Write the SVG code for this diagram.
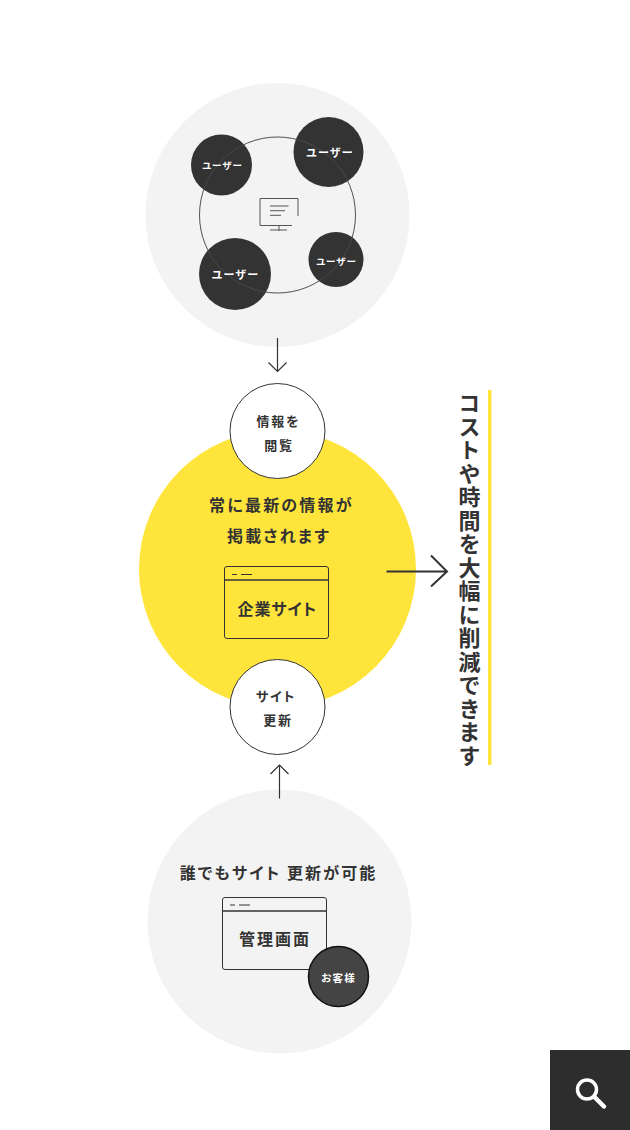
<svg xmlns="http://www.w3.org/2000/svg" width="630" height="1130" viewBox="0 0 630 1130">
<style>
text{font-family:"Noto Sans CJK JP","Noto Sans CJK SC",sans-serif;font-weight:700;text-anchor:middle;font-feature-settings:"palt"}
.d{fill:#333}
.w{fill:#fff}
.ln{fill:none;stroke:#333;stroke-width:1.5}
.th{fill:none;stroke:#333;stroke-width:1}
.u{fill:#333}
</style>
<rect width="630" height="1130" fill="#fff"/>
<g id="top-panel">
<circle cx="277.500" cy="215" r="132" fill="#f3f3f3"/>
<circle cx="277.500" cy="215" r="78" fill="none" stroke="#444" stroke-width="1"/>
</g>
<g id="monitor" fill="none" stroke="#555" stroke-width="1">
<path d="M298 216V198.500H260V225.500H292"/>
<path d="M279 226V231M270 230H287"/>
<path d="M270 206H288.500M270 210.700H285M270 215.300H281"/>
</g>
<g id="user-1"><circle cx="221.500" cy="165" r="30.500" class="u"/><text x="222.500" y="168.500" font-size="9.500" letter-spacing="1" class="w">ユーザー</text></g>
<g id="user-2"><circle cx="328.500" cy="152" r="35" class="u"/><text x="330" y="157" font-size="11" letter-spacing="1.200" class="w">ユーザー</text></g>
<g id="user-3"><circle cx="235" cy="274" r="36" class="u"/><text x="235.500" y="279" font-size="11" letter-spacing="1.200" class="w">ユーザー</text></g>
<g id="user-4"><circle cx="336" cy="259.500" r="27.500" class="u"/><text x="336.500" y="265" font-size="9.500" letter-spacing="1" class="w">ユーザー</text></g>
<g id="ring-overlay"><circle cx="277.500" cy="215" r="78" fill="none" stroke="#fff" stroke-opacity=".1" stroke-width="1"/></g>
<g id="center">
<circle cx="277.500" cy="569" r="138.500" fill="#ffe53b"/>
<text x="281.500" y="511" font-size="16" letter-spacing="2.200" class="d">常に最新の情報が</text>
<text x="279" y="542" font-size="16" letter-spacing="2.200" class="d">掲載されます</text>
</g>
<g id="site-window">
<rect x="224.500" y="566.500" width="104" height="72" rx="2.500" class="th"/>
<path d="M224.500 580H328.500" class="ln"/>
<path d="M232 574.500H237M241 574.500H252" class="th"/>
<text x="277.300" y="614.500" font-size="16" letter-spacing=".9" class="d">企業サイト</text>
</g>
<g id="view">
<circle cx="277.500" cy="431" r="47.500" fill="#fff" stroke="#333" stroke-width="1"/>
<text x="278.500" y="426" font-size="13" letter-spacing="1.800" class="d">情報を</text>
<text x="279" y="450" font-size="13" letter-spacing="1.800" class="d">閲覧</text>
</g>
<g id="update">
<circle cx="277.500" cy="707" r="47.500" fill="#fff" stroke="#333" stroke-width="1"/>
<text x="276" y="701" font-size="13" letter-spacing="1.800" class="d">サイト</text>
<text x="278" y="725" font-size="13" letter-spacing="1.800" class="d">更新</text>
</g>
<g id="side-label">
<rect x="488" y="390" width="3.500" height="375" fill="#ffe53b"/>
<text x="469.500" y="580" font-size="22" letter-spacing="1.500" class="d" style="writing-mode:vertical-rl;font-feature-settings:normal">コストや時間を大幅に削減できます</text>
</g>
<g id="bottom-panel">
<circle cx="279.500" cy="921.500" r="132" fill="#f3f3f3"/>
<text x="278.500" y="879" font-size="16" letter-spacing="2.100" class="d">誰でもサイト 更新が可能</text>
</g>
<g id="admin-window">
<rect x="222.500" y="897.500" width="104" height="72" rx="2.500" class="th"/>
<path d="M222.500 911H326.500" class="ln"/>
<path d="M230 905H235M239 905H250" class="th"/>
<text x="275" y="945" font-size="16" letter-spacing="2" class="d">管理画面</text>
</g>
<g id="customer">
<circle cx="338.500" cy="976.500" r="30" fill="#444" stroke="#111" stroke-width="1.500"/>
<text x="338.500" y="982" font-size="10.500" letter-spacing="1.200" class="w">お客様</text>
</g>
<g id="connectors" fill="none" stroke="#333">
<path d="M277.500 338V371M268.500 362.500L277.500 371.500L286.500 362.500" stroke-width="1.200"/>
<path d="M279.500 798.500V765.500M270.500 774L279.500 765L288.500 774" stroke-width="1.200"/>
<path d="M386.500 571.500H447M431 555.500L447 571.500L431 586.500" stroke-width="2"/>
</g>
<g id="search">
<rect x="550" y="1050" width="80" height="80" fill="#2d2d2d"/>
<circle cx="587" cy="1089.500" r="9.500" fill="none" stroke="#fff" stroke-width="3.500"/>
<path d="M594.500 1097L604 1106.500" stroke="#fff" stroke-width="4.500" stroke-linecap="round"/>
</g>
</svg>
